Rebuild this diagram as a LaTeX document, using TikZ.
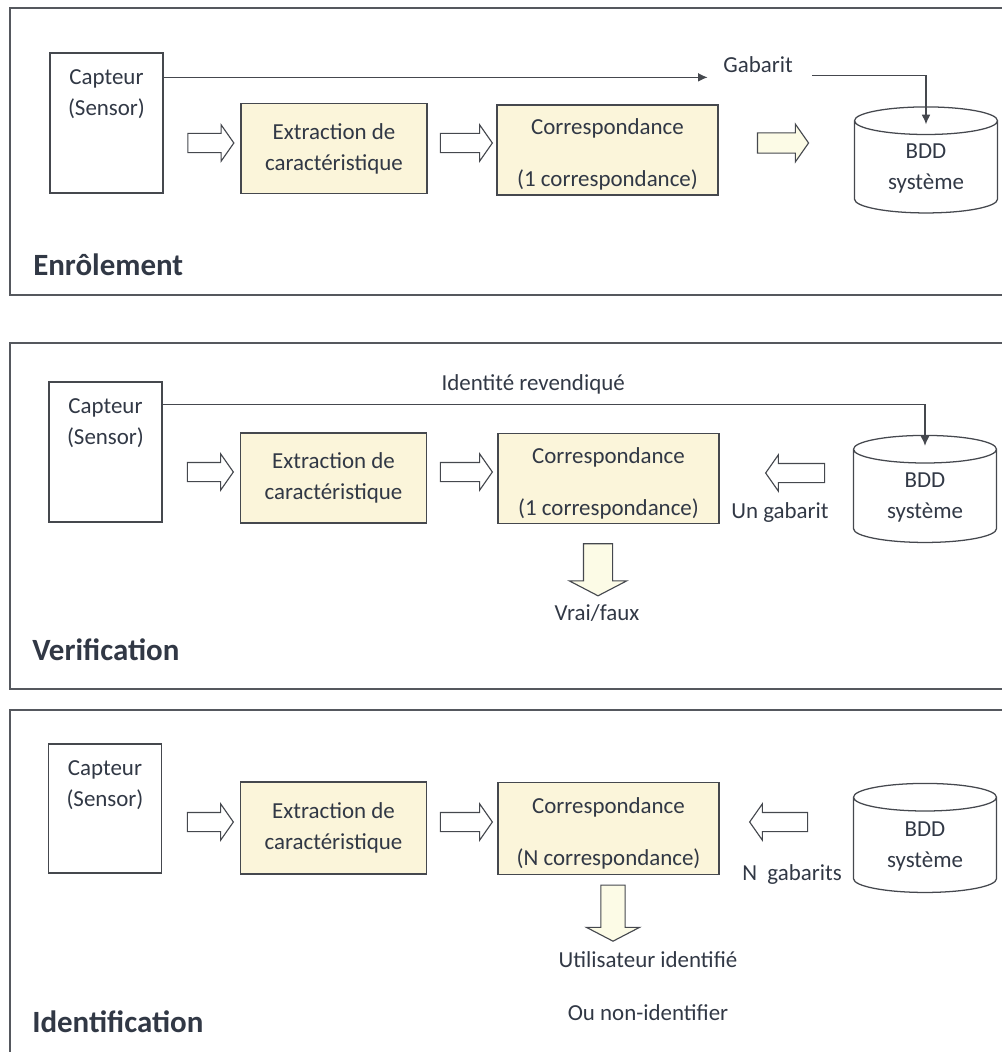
\documentclass[tikz,border=0pt]{standalone}
\usepackage{fontspec}
\setmainfont{Carlito}
\usetikzlibrary{arrows.meta,calc,shapes.geometric,shapes.arrows}
\definecolor{Ink}{HTML}{313845}
\definecolor{Edge}{HTML}{45484E}
\definecolor{Frame}{HTML}{55585E}
\definecolor{Cream}{HTML}{FBF5DA}
\definecolor{Pale}{HTML}{FCFBE6}
\tikzset{
  >={Latex[length=2.4mm,width=2.2mm]},
  txt/.style={font=\fontsize{16.3}{22}\selectfont,text=Ink,align=center,inner sep=1pt},
  head/.style={font=\fontsize{22}{26}\selectfont\bfseries,text=Ink,anchor=west,inner sep=0pt},
  panel/.style={draw=Frame,line width=1.1pt},
  sensorbox/.style={draw=Edge,line width=.9pt,fill=white,minimum width=2.825cm},
  senslab/.style={label={[txt,anchor=north,yshift=-11pt]north:{Capteur\\(Sensor)}}},
  extbox/.style={txt,draw=Edge,line width=.9pt,fill=Cream,minimum width=4.65cm,minimum height=2.25cm},
  matchbox/.style={extbox,minimum width=5.525cm},
  db/.style={txt,cylinder,shape border rotate=90,aspect=.35,draw=Edge,line width=.9pt,minimum width=3.575cm,minimum height=2.65cm},
  blockarrow/.style={single arrow,draw=Edge,line width=.8pt,fill=white,inner xsep=0pt,inner ysep=.225cm,
    single arrow head extend=.215cm,single arrow tip angle=110,single arrow head indent=0pt},
  downarrow/.style={blockarrow,fill=Pale,rotate=-90,inner ysep=.35cm,single arrow head extend=.35cm,single arrow tip angle=125},
  flow/.style={draw=Edge,line width=.8pt}
}
\begin{document}
\begin{tikzpicture}[x=0.025cm,y=-0.025cm]
  \useasboundingbox (0,0) rectangle (1001,1052);
  % Enrolement
  \draw[panel] (10,8) rectangle (1015,295);
  \node[sensorbox,minimum height=3.5cm,senslab] (sen1) at (106.5,123) {};
  \node[extbox] (ext1) at (334,148.5) {Extraction de\\caractéristique};
  \node[matchbox] (cor1) at (607.5,150) {\rule{0pt}{18pt}Correspondance\\[15pt](1 correspondance)};
  \node[db] (db1) at (926,168.5) {BDD\\système};
  \node[blockarrow,minimum height=1.15cm] (a11) at (207.5,143) {};
  \node[blockarrow,minimum height=1.3cm] (a12) at (463,143) {};
  \node[blockarrow,fill=Pale,minimum height=1.275cm,inner ysep=.24cm] (a13) at (779.5,143) {};
  \node[txt] (gab1) at (758,65) {Gabarit};
  \coordinate (g1) at ($(sen1.north east)+(0,25)$);
  \draw[flow,->] (g1) -- ($(g1 -| gab1.west)+(-14,0)$);
  \draw[flow,->] ($(g1 -| gab1.east)+(18,-2)$) -| ($(db1.top)+(0,18)$);
  \node[head] (t1) at (33,265) {Enrôlement};
  % Verification
  \draw[panel] (10,343) rectangle (1015,689);
  \node[sensorbox,minimum height=3.5cm,senslab] (sen2) at (105.5,452) {};
  \node[extbox] (ext2) at (333.5,478) {Extraction de\\caractéristique};
  \node[matchbox] (cor2) at (608.5,478.5) {\rule{0pt}{18pt}Correspondance\\[15pt](1 correspondance)};
  \node[db,minimum height=2.675cm] (db2) at (925,497.5) {BDD\\système};
  \node[blockarrow,minimum height=1.15cm] (a21) at (207,472) {};
  \node[blockarrow,minimum height=1.3cm] (a22) at (463,472) {};
  \node[blockarrow,rotate=180,minimum height=1.475cm] (a23) at (798.5,473) {};
  \node[downarrow,minimum height=1.3cm] (a24) at (598,566) {};
  \coordinate (g2) at ($(sen2.north east)+(0,23)$);
  \draw[flow,->] (g2) -| node[txt,pos=.243,above=6pt] (idr) {Identité revendiqué} ($(db2.top)+(0,11)$);
  \node[txt] (ung) at (780,513) {Un gabarit};
  \node[txt] (vf) at (597,613) {Vrai/faux};
  \node[head] (t2) at (32,650) {Verification};
  % Identification
  \draw[panel] (10,710) rectangle (1015,1065);
  \node[sensorbox,minimum height=3.225cm,senslab] (sen3) at (105,808.5) {};
  \node[extbox,minimum height=2.3cm] (ext3) at (333.5,828) {Extraction de\\caractéristique};
  \node[matchbox,minimum height=2.3cm] (cor3) at (608.5,828.5) {\rule{0pt}{18pt}Correspondance\\[15pt](N correspondance)};
  \node[db,minimum height=2.725cm] (db3) at (925,846.5) {BDD\\système};
  \node[blockarrow,minimum height=1.15cm] (a31) at (207,822) {};
  \node[blockarrow,minimum height=1.3cm] (a32) at (463,822) {};
  \node[blockarrow,rotate=180,minimum height=1.45cm] (a33) at (782,822) {};
  \node[downarrow,minimum height=1.4cm,inner ysep=.29cm,single arrow head extend=.36cm] (a34) at (613,910) {};
  \node[txt] (ngab) at (792,875) {N\ \ gabarits};
  \node[txt] (uid) at (648,960) {Utilisateur identifié};
  \node[txt] (nid) at (648,1013) {Ou non-identifier};
  \node[head] (t3) at (32,1022) {Identification};
\end{tikzpicture}
\end{document}
